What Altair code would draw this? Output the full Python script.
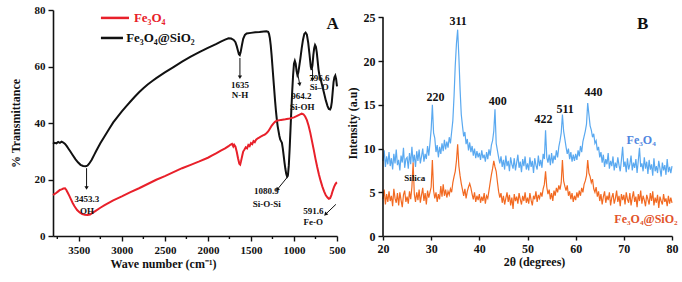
import altair as alt
import pandas as pd

FONT = "Liberation Serif"

# ---------------- Panel A : FTIR ----------------
black_wn = [3800, 3780, 3760, 3740, 3720, 3700, 3680, 3660, 3640, 3620, 3600, 3570, 3540, 3510, 3480,
            3450, 3420, 3400, 3380, 3350, 3320, 3300, 3250, 3200, 3150, 3100, 3050, 3000, 2950, 2900,
            2850, 2800, 2750, 2700, 2650, 2600, 2500, 2400, 2300, 2200, 2100, 2000, 1900, 1850, 1800,
            1760, 1730, 1700, 1680, 1665, 1650, 1640, 1630, 1620, 1605, 1590, 1570, 1550, 1500, 1450,
            1400, 1350, 1320, 1300, 1290, 1280, 1270, 1260, 1250, 1240, 1230, 1220, 1210, 1200, 1190,
            1180, 1170, 1160, 1150, 1140, 1130, 1120, 1110, 1100, 1090, 1080, 1070, 1060, 1050, 1040,
            1030, 1020, 1010, 1000, 990, 980, 970, 960, 950, 940, 925, 910, 895, 880, 865,
            850, 835, 820, 805, 795, 785, 775, 765, 755, 745, 735, 725, 715, 705, 690,
            670, 650, 630, 610, 595, 580, 570, 560, 550, 540, 530, 520, 510, 500]
black_t = [32.6, 33.0, 32.8, 33.3, 33.0, 33.4, 33.1, 32.6, 31.8, 30.9, 30.0, 28.6, 27.2, 26.1, 25.2,
           24.8, 24.7, 24.9, 25.6, 27.0, 28.8, 30.0, 32.8, 35.3, 37.8, 40.2, 42.2, 44.1, 45.9, 47.6,
           49.3, 50.9, 52.3, 53.6, 54.8, 55.9, 57.9, 59.8, 61.7, 63.5, 65.1, 66.6, 68.0, 68.8, 69.5,
           70.0, 69.9, 69.4, 68.6, 67.2, 65.5, 64.3, 64.0, 65.0, 67.5, 69.8, 71.2, 71.7, 71.9, 72.1,
           72.2, 72.4, 72.5, 72.3, 71.6, 70.0, 67.5, 64.0, 60.0, 56.0, 52.0, 48.0, 44.5, 41.5, 39.0,
           37.2, 35.5, 34.2, 33.6, 33.0, 31.0, 28.5, 26.0, 23.8, 22.0, 21.0, 21.5, 25.0, 31.0, 38.0,
           45.0, 51.5, 57.0, 61.0, 62.0, 61.0, 58.5, 57.0, 57.8, 59.8, 63.0, 66.5, 69.5, 71.5, 72.0,
           71.3, 68.5, 64.5, 60.0, 58.8, 60.5, 64.0, 66.5, 67.6, 67.0, 65.0, 62.0, 59.0, 57.0, 55.5,
           53.0, 50.5, 48.0, 46.0, 45.0, 44.8, 45.5, 47.5, 51.0, 54.5, 56.2, 56.8, 55.5, 53.0]

red_wn = [3800, 3780, 3760, 3740, 3720, 3700, 3680, 3660, 3645, 3630, 3610, 3590, 3570, 3550, 3520,
          3490, 3460, 3430, 3400, 3370, 3340, 3300, 3250, 3200, 3100, 3000, 2900, 2800, 2700, 2600,
          2500, 2400, 2300, 2200, 2100, 2000, 1950, 1900, 1850, 1800, 1760, 1740, 1720, 1705, 1695,
          1680, 1665, 1650, 1635, 1625, 1615, 1600, 1590, 1575, 1560, 1545, 1530, 1515, 1500, 1485,
          1470, 1455, 1440, 1420, 1400, 1380, 1360, 1340, 1320, 1300, 1280, 1260, 1240, 1220, 1200,
          1150, 1100, 1050, 1000, 970, 940, 910, 890, 870, 850, 830, 810, 790, 770, 750,
          730, 710, 690, 670, 650, 630, 610, 595, 580, 565, 550, 535, 520, 505, 500]
red_t = [14.5, 14.9, 15.3, 15.8, 16.3, 16.5, 16.8, 16.9, 16.3, 15.4, 14.2, 12.9, 11.6, 10.5, 9.2,
         8.3, 7.8, 7.5, 7.4, 7.6, 8.2, 9.0, 10.0, 10.9, 12.6, 14.0, 15.5, 16.9, 18.4, 19.9,
         21.2, 22.6, 24.0, 25.2, 26.4, 27.7, 28.5, 29.3, 30.2, 31.0, 31.8, 32.3, 32.6, 31.7, 32.3,
         31.6, 29.8, 27.5, 25.6, 25.3, 26.5, 28.6, 29.9, 30.6, 31.4, 31.0, 32.2, 31.8, 32.9, 32.5,
         33.6, 33.2, 34.1, 34.6, 34.9, 35.3, 35.6, 35.9, 36.4, 37.0, 38.0, 39.0, 39.8, 40.4, 40.8,
         41.1, 41.3, 41.6, 42.0, 42.4, 42.9, 43.3, 43.1, 42.3, 41.0, 39.0, 36.5, 33.5, 30.5, 27.3,
         24.4, 21.8, 19.5, 17.5, 15.8, 14.4, 13.6, 13.2, 13.4, 14.5, 16.0, 17.3, 18.3, 18.9, 19.0]

ftir_series = ["Fe₃O₄", "Fe₃O₄@SiO₂"]
ftir_colors = ["#e8202a", "#111111"]

x_major = [3500, 3000, 2500, 2000, 1500, 1000, 500]
x_minor = [3750, 3250, 2750, 2250, 1750, 1250, 750]

# annotations for panel A (peak assignments)
ann_a_text = ["3453.3", "OH", "1635", "N-H", "964.2", "Si-OH", "796.6", "Si–O",
              "1080.9", "Si-O-Si", "591.6", "Fe-O"]
ann_a_wn = [3405, 3405, 1628, 1628, 915, 905, 705, 705, 1320, 1315, 775, 775]
ann_a_t = [13.2, 8.8, 53.4, 49.9, 49.6, 45.7, 56.0, 52.7, 15.9, 11.4, 8.8, 5.0]

arr_wn = [3410, 1628, 958, 784, 1067, 513]
arr_t = [24.0, 63.0, 57.8, 59.0, 21.2, 11.2]
arr_wn2 = [3410, 1628, 935, 784, 1190, 629]
arr_t2 = [17.2, 56.4, 53.9, 55.6, 16.6, 7.8]
arr_angle = [180, 180, 170, 180, 220, 225]

# ---------------- Panel B : XRD ----------------
theta_start = 20.0
theta_step = 0.25
xrd_fe3o4 = [
    8.6, 9.8, 7.9, 9.1, 8.2, 9.6, 8.0, 8.9, 7.6, 9.4, 8.3, 9.9, 8.1, 8.7, 7.5, 9.2, 8.4, 10.1, 7.8, 8.8,
    9.0, 7.7, 9.5, 8.2, 10.2, 8.4, 9.3, 7.9, 9.7, 8.6, 9.9, 8.3, 9.1, 10.0, 8.5, 9.4, 8.8, 10.3, 9.2, 10.6,
    12.2, 15.0, 11.8, 11.2, 9.6, 10.4, 9.0, 10.2, 9.4, 10.6, 9.7, 11.0, 9.9, 10.8, 10.1, 11.3, 10.6, 11.9, 13.2, 16.0,
    19.5, 22.0, 23.6, 20.5, 16.8, 13.9, 12.6, 11.4, 11.9, 10.5, 11.1, 9.8, 10.7, 9.6, 10.3, 9.2, 10.0, 8.9, 9.7, 9.0,
    9.5, 8.7, 9.8, 8.9, 9.3, 8.5, 9.6, 8.8, 9.9, 9.2, 10.4, 10.9, 12.0, 14.5, 10.6, 9.8, 9.0, 8.3, 9.1, 7.9,
    8.7, 7.6, 9.2, 8.0, 8.6, 7.4, 9.0, 8.2, 7.7, 8.9, 7.5, 8.4, 9.3, 7.8, 8.5, 7.3, 8.8, 8.0, 9.1, 7.6,
    8.3, 7.5, 9.0, 7.9, 8.6, 7.2, 8.9, 8.1, 7.6, 9.2, 8.0, 8.7, 7.8, 9.4, 8.8, 12.1, 9.0, 8.4, 9.3, 8.1,
    9.5, 8.3, 9.2, 8.7, 9.8, 9.0, 10.2, 10.9, 11.8, 13.9, 12.0, 11.1, 10.2, 9.4, 10.0, 8.8, 9.6, 8.5, 9.3, 8.6,
    9.4, 8.7, 9.8, 9.1, 10.3, 9.6, 10.8, 11.4, 12.0, 12.8, 15.2, 13.9, 12.6, 12.1, 11.3, 11.7, 10.6, 10.9, 9.8, 10.2,
    9.0, 9.6, 8.4, 9.3, 7.9, 8.8, 8.2, 9.5, 7.7, 8.6, 8.0, 9.1, 7.5, 8.4, 7.8, 9.0, 8.1, 7.4, 8.7, 10.2,
    7.9, 8.5, 7.3, 8.9, 7.6, 8.2, 9.2, 7.5, 8.4, 7.8, 8.8, 7.2, 8.6, 10.1, 7.9, 8.3, 7.4, 9.0, 7.7, 8.5,
    7.1, 8.7, 7.6, 8.2, 6.9, 8.9, 7.4, 8.0, 7.2, 8.6, 7.7, 6.8, 8.4, 7.5, 8.1, 7.0, 8.8, 7.3, 7.9, 7.2,
    8.0]
xrd_fe3o4_sio2 = [
    4.2, 5.3, 3.6, 4.8, 3.9, 5.1, 4.0, 4.6, 3.4, 5.4, 4.3, 3.8, 4.9, 3.5, 5.0, 4.1, 3.3, 4.7, 5.2, 3.9,
    4.5, 3.7, 5.1, 4.2, 5.6, 8.4, 4.8, 3.9, 5.0, 4.1, 5.3, 3.8, 4.7, 5.5, 4.0, 4.9, 3.6, 5.2, 4.4, 5.0,
    5.6, 8.7, 5.2, 4.3, 5.0, 3.9, 4.8, 4.2, 5.7, 4.5, 5.9, 4.6, 5.3, 4.4, 5.1, 4.7, 5.4, 5.0, 6.1, 6.8,
    7.4, 8.6, 10.5, 8.0, 6.9, 6.0, 5.3, 4.6, 5.4, 4.3, 5.1, 5.6, 6.0, 5.5, 4.8, 4.2, 5.0, 3.9, 4.6, 4.1,
    4.8, 3.8, 4.5, 4.0, 4.9, 3.7, 4.6, 4.3, 5.2, 6.1, 7.0, 7.7, 8.6, 7.9, 7.4, 6.2, 5.1, 4.4, 4.9, 3.8,
    4.6, 3.6, 4.3, 5.0, 3.9, 4.7, 3.5, 4.4, 3.1, 4.8, 4.0, 4.5, 3.7, 4.9, 4.2, 3.6, 4.6, 4.0, 5.0, 3.8,
    4.4, 3.7, 4.9, 4.1, 3.5, 4.6, 4.2, 5.1, 3.9, 4.7, 4.3, 5.0, 4.5, 5.4, 5.9, 7.4, 5.6, 4.8, 5.3, 4.2,
    4.9, 4.0, 5.2, 4.6, 5.5, 5.0, 5.8, 5.3, 6.1, 8.7, 6.3, 5.7, 5.2, 5.8, 4.6, 5.1, 4.2, 4.9, 3.9, 4.6,
    4.1, 5.0, 4.4, 5.2, 4.6, 5.5, 5.0, 5.9, 6.3, 6.9, 8.7, 7.2, 6.8, 6.1, 6.5, 5.4, 5.0, 5.6, 4.5, 5.1,
    4.0, 4.8, 3.6, 4.5, 5.1, 3.8, 4.6, 4.1, 5.0, 3.5, 4.4, 4.9, 3.7, 4.3, 5.2, 3.9, 4.6, 3.4, 4.8, 4.1,
    4.7, 3.6, 5.0, 4.2, 3.8, 4.9, 3.5, 4.4, 5.1, 3.9, 4.5, 3.3, 4.8, 4.0, 5.2, 3.7, 4.6, 4.1, 3.4, 4.7,
    4.2, 3.6, 4.9, 4.0, 5.1, 3.5, 4.4, 3.8, 4.7, 3.2, 4.5, 4.0, 3.6, 4.8, 3.9, 4.3, 3.4, 4.6, 3.7, 4.4,
    3.8]
xrd_series = ["Fe₃O₄", "Fe₃O₄@SiO₂"]
xrd_colors = ["#5aa9f0", "#f26a22"]

peak_labels = ["220", "311", "400", "422", "511", "440"]
peak_x = [30.9, 35.6, 43.8, 53.3, 57.8, 63.7]
peak_y = [15.9, 24.6, 15.4, 13.4, 14.5, 16.5]

# ---------------- build tables ----------------
ftir = pd.concat([
    pd.DataFrame({"wn": black_wn, "t": black_t, "s": ftir_series[1]}),
    pd.DataFrame({"wn": red_wn, "t": red_t, "s": ftir_series[0]}),
])
n = len(xrd_fe3o4)
theta = [theta_start + theta_step * i for i in range(n)]
xrd = pd.concat([
    pd.DataFrame({"th": theta, "I": xrd_fe3o4, "s": xrd_series[0]}),
    pd.DataFrame({"th": theta, "I": xrd_fe3o4_sio2, "s": xrd_series[1]}),
])

W1, H1 = 284, 226
W2, H2 = 289, 226

# ---- panel A ----
xA = alt.Scale(domain=[3800, 500], nice=False, zero=False)
yA = alt.Scale(domain=[0, 80], nice=False)
y_minor = list(range(0, 81, 5))

axA_x = alt.Axis(values=x_major, format="d", labelOverlap=False, labelFlush=False,
                 tickSize=5, title="Wave number (cm⁻¹)", titleX=110, titleFontSize=12,
                 titlePadding=3, labelFontSize=11, labelPadding=3, domainWidth=1.6, tickWidth=1.4)
axA_y = alt.Axis(values=y_minor, format="d", labelOverlap=False,
                 labelExpr="datum.value % 10 === 0 ? datum.label : ''",
                 tickSize={"condition": {"test": "datum.value % 10 === 0", "value": 5}, "value": 3},
                 title="% Transmittance", titleFontSize=12, titlePadding=12,
                 labelFontSize=11, labelPadding=3, domainWidth=1.6, tickWidth=1.4)

cA = alt.Scale(domain=ftir_series, range=ftir_colors)

linesA = alt.Chart(ftir).mark_line(strokeWidth=2, interpolate="linear").encode(
    x=alt.X("wn:Q", scale=xA, axis=axA_x),
    y=alt.Y("t:Q", scale=yA, axis=axA_y),
    color=alt.Color("s:N", scale=cA, legend=None),
    detail="s:N",
    order=alt.Order("wn:Q"),
)

minor_ticks = alt.Chart(pd.DataFrame({"wn": x_minor})).mark_rule(strokeWidth=1.4, color="#111").encode(
    x=alt.X("wn:Q", scale=xA), y=alt.value(H1), y2=alt.value(H1 + 3))

leg_df = pd.DataFrame({"wn": [3243, 3243], "wn2": [2917, 2987], "t": [77.2, 70.1],
                       "s": ftir_series, "lx": [2860, 2950]})
leg_rule = alt.Chart(leg_df).mark_rule(strokeWidth=2.5).encode(
    x=alt.X("wn:Q", scale=xA), x2="wn2", y=alt.Y("t:Q", scale=yA),
    color=alt.Color("s:N", scale=cA, legend=None))
leg_text = alt.Chart(leg_df).mark_text(font=FONT, fontSize=13, fontWeight="bold", align="left",
                                        baseline="middle").encode(
    x=alt.X("lx:Q", scale=xA), y=alt.Y("t:Q", scale=yA), text="s:N",
    color=alt.Color("s:N", scale=cA, legend=None))

ann_df = pd.DataFrame({"wn": ann_a_wn, "t": ann_a_t, "txt": ann_a_text})
ann_text = alt.Chart(ann_df).mark_text(font=FONT, fontSize=9, fontWeight="bold", color="#111",
                                        baseline="middle").encode(
    x=alt.X("wn:Q", scale=xA), y=alt.Y("t:Q", scale=yA), text="txt:N")

arr_df = pd.DataFrame({"wn": arr_wn, "t": arr_t, "wn2": arr_wn2, "t2": arr_t2, "ang": arr_angle})
arr_rule = alt.Chart(arr_df).mark_rule(strokeWidth=1, color="#111").encode(
    x=alt.X("wn:Q", scale=xA), x2="wn2", y=alt.Y("t:Q", scale=yA), y2="t2")
arr_head = alt.Chart(arr_df).mark_point(shape="triangle", filled=True, size=18, color="#111",
                                         opacity=1).encode(
    x=alt.X("wn2:Q", scale=xA), y=alt.Y("t2:Q", scale=yA),
    angle=alt.Angle("ang:Q", scale=None))

tagA = alt.Chart(pd.DataFrame({"wn": [552], "t": [75.0], "txt": ["A"]})).mark_text(
    font=FONT, fontSize=17, fontWeight="bold", color="#111").encode(
    x=alt.X("wn:Q", scale=xA), y=alt.Y("t:Q", scale=yA), text="txt:N")

panelA = alt.layer(linesA, minor_ticks, leg_rule, leg_text, arr_rule, arr_head, ann_text, tagA
                   ).properties(width=W1, height=H1)

# ---- panel B ----
xB = alt.Scale(domain=[20, 80], nice=False, zero=False)
yB = alt.Scale(domain=[0, 25.85], nice=False)
axB_x = alt.Axis(values=list(range(20, 81, 10)), title="2θ (degrees)", titleX=151,
                 titleFontSize=12, titlePadding=2, labelFontSize=12, labelPadding=3,
                 tickSize=4, domainWidth=1.6, tickWidth=1.4, labelFlush=False)
axB_y = alt.Axis(values=list(range(0, 26, 5)), title="Intensity (a.u)", titleFontSize=12,
                 titlePadding=4, labelFontSize=12, labelPadding=3, tickSize=5,
                 domain=False, tickWidth=1.4)

cB = alt.Scale(domain=xrd_series, range=xrd_colors)
linesB = alt.Chart(xrd).mark_line(strokeWidth=1.2).encode(
    x=alt.X("th:Q", scale=xB, axis=axB_x),
    y=alt.Y("I:Q", scale=yB, axis=axB_y),
    color=alt.Color("s:N", scale=cB, legend=None),
    detail="s:N",
    order=alt.Order("th:Q"),
)
yaxis_line = alt.Chart(pd.DataFrame({"th": [20], "a": [0], "b": [25]})).mark_rule(
    strokeWidth=1.6, color="#111").encode(
    x=alt.X("th:Q", scale=xB), y=alt.Y("a:Q", scale=yB), y2="b")

pk_df = pd.DataFrame({"th": peak_x, "I": peak_y, "txt": peak_labels})
pk_text = alt.Chart(pk_df).mark_text(font=FONT, fontSize=12, fontWeight="bold", color="#111").encode(
    x=alt.X("th:Q", scale=xB), y=alt.Y("I:Q", scale=yB), text="txt:N")

silica = alt.Chart(pd.DataFrame({"th": [26.6], "I": [6.6], "txt": ["Silica"]})).mark_text(
    font=FONT, fontSize=9, fontWeight="bold", color="#111").encode(
    x=alt.X("th:Q", scale=xB), y=alt.Y("I:Q", scale=yB), text="txt:N")

ser_df = pd.DataFrame({"th": [73.6, 74.6], "I": [11.0, 1.9], "s": xrd_series})
ser_text = alt.Chart(ser_df).mark_text(font=FONT, fontSize=12, fontWeight="bold").encode(
    x=alt.X("th:Q", scale=xB), y=alt.Y("I:Q", scale=yB), text="s:N",
    color=alt.Color("s:N", scale=alt.Scale(domain=xrd_series, range=["#4f86e0", "#e2532a"]),
                    legend=None))

tagB = alt.Chart(pd.DataFrame({"th": [73.9], "I": [24.2], "txt": ["B"]})).mark_text(
    font=FONT, fontSize=17, fontWeight="bold", color="#111").encode(
    x=alt.X("th:Q", scale=xB), y=alt.Y("I:Q", scale=yB), text="txt:N")

panelB = alt.layer(linesB, yaxis_line, pk_text, silica, ser_text, tagB).resolve_scale(
    color="independent").properties(width=W2, height=H2)

chart = alt.hconcat(panelA, panelB, spacing=0).properties(
    padding={"left": 9, "top": 4, "right": 2, "bottom": 2},
    background="white",
).configure_view(stroke=None).configure_axis(
    labelFont=FONT, titleFont=FONT, labelFontWeight="bold", titleFontWeight="bold",
    labelColor="#111", titleColor="#111", domainColor="#111", tickColor="#111", grid=False,
)

chart.save("out.html", embed_options={"renderer": "svg", "actions": False})
